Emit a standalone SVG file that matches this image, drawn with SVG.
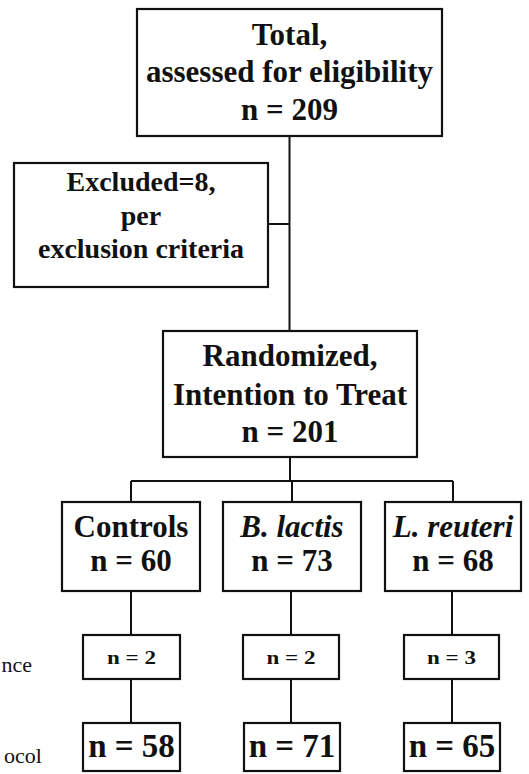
<svg xmlns="http://www.w3.org/2000/svg" width="529" height="774" viewBox="0 0 529 774" font-family="'Liberation Serif', Tinos, 'Times New Roman', Times, 'DejaVu Serif', serif">
<style>
.box{fill:#fff;stroke:#111;stroke-width:2.2}
.ln{fill:none;stroke:#111;stroke-width:2}
text{font-family:'Liberation Serif', Tinos, 'Times New Roman', Times, 'DejaVu Serif', serif;fill:#111;text-anchor:middle}
.b{font-weight:bold;font-size:31px}
.bi{font-weight:bold;font-style:italic;font-size:31px}
.ex{font-weight:bold;font-size:28px}
.s{font-weight:bold;font-size:18px}
.m{font-weight:bold;font-size:33px}
.lab{font-size:22px;text-anchor:end}
</style>
<rect width="529" height="774" fill="#fff"/>
<g id="connectors">
<path class="ln" d="M289.5 136V331"/>
<path class="ln" d="M268 224H289.5"/>
<path class="ln" d="M290 457V481"/>
<path class="ln" d="M131 481H453"/>
<path class="ln" d="M131 481V502M292 481V502M453 481V502"/>
<path class="ln" d="M131 591V635M291 591V635M452 591V635"/>
<path class="ln" d="M131 679V723M291 679V723M452 679V723"/>
</g>
<g id="total">
<rect class="box" x="137" y="9" width="305" height="127"/>
<text class="b" x="289.5" y="45">Total,</text>
<text class="b" x="289.5" y="82">assessed for eligibility</text>
<text class="b" x="289.5" y="120">n = 209</text>
</g>
<g id="excluded">
<rect class="box" x="14" y="163" width="254" height="124"/>
<text class="ex" x="141" y="191">Excluded=8,</text>
<text class="ex" x="141" y="225">per</text>
<text class="ex" x="141" y="258">exclusion criteria</text>
</g>
<g id="randomized">
<rect class="box" x="163" y="331" width="254" height="126"/>
<text class="b" x="290" y="366">Randomized,</text>
<text class="b" x="290" y="405">Intention to Treat</text>
<text class="b" x="290" y="442">n = 201</text>
</g>
<g id="controls">
<rect class="box" x="62" y="502" width="138" height="89"/>
<text class="b" x="131" y="537">Controls</text>
<text class="b" x="131" y="571">n = 60</text>
</g>
<g id="blactis">
<rect class="box" x="223" y="502" width="138" height="89"/>
<text class="bi" x="292" y="537">B. lactis</text>
<text class="b" x="292" y="571">n = 73</text>
</g>
<g id="lreuteri">
<rect class="box" x="385" y="502" width="136" height="89"/>
<text class="bi" x="453" y="537">L. reuteri</text>
<text class="b" x="453" y="571">n = 68</text>
</g>
<g id="labels">
<text class="lab" x="32" y="672">nce</text>
<text class="lab" x="42" y="763">ocol</text>
</g>
<g id="nc-controls">
<rect class="box" x="83" y="635" width="97" height="44"/>
<text class="s" x="131.5" y="664" textLength="49" lengthAdjust="spacingAndGlyphs">n = 2</text>
</g>
<g id="nc-blactis">
<rect class="box" x="243" y="635" width="96" height="44"/>
<text class="s" x="291" y="664" textLength="49" lengthAdjust="spacingAndGlyphs">n = 2</text>
</g>
<g id="nc-lreuteri">
<rect class="box" x="404" y="635" width="95" height="44"/>
<text class="s" x="451.5" y="664" textLength="49" lengthAdjust="spacingAndGlyphs">n = 3</text>
</g>
<g id="pp-controls">
<rect class="box" x="83" y="723" width="97" height="48"/>
<text class="m" x="131.5" y="757">n = 58</text>
</g>
<g id="pp-blactis">
<rect class="box" x="244" y="723" width="96" height="48"/>
<text class="m" x="292" y="757">n = 71</text>
</g>
<g id="pp-lreuteri">
<rect class="box" x="404" y="723" width="96" height="48"/>
<text class="m" x="452" y="757">n = 65</text>
</g>
</svg>
